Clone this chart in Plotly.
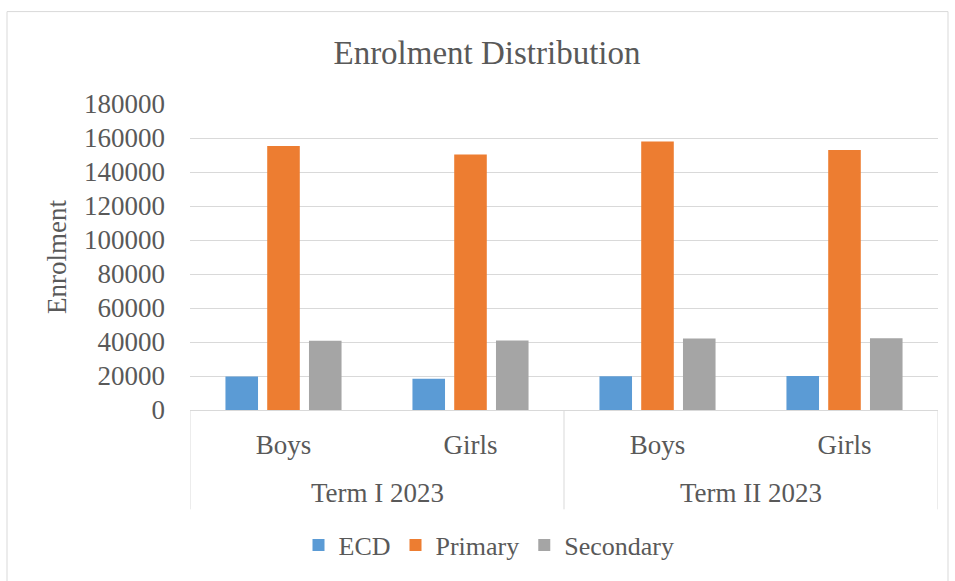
import plotly.graph_objects as go

# Enrolment by term and gender, split by level of schooling
terms = ["Term I 2023", "Term I 2023", "Term II 2023", "Term II 2023"]
genders = ["Boys", "Girls", "Boys", "Girls"]
ecd = [19700, 18400, 19900, 20000]
primary = [155300, 150300, 157900, 153000]
secondary = [40700, 40900, 42100, 42200]

series = [
    ("ECD", ecd, "#5B9BD5"),
    ("Primary", primary, "#ED7D31"),
    ("Secondary", secondary, "#A5A5A5"),
]

TEXT = "#595959"
GRID = "#D9D9D9"
FONT = "Liberation Serif, Times New Roman, serif"

# one slot per (term, gender) pair along the category axis
pos = list(range(len(genders)))

fig = go.Figure()
for name, vals, color in series:
    fig.add_trace(go.Bar(
        name=name,
        x=pos,
        y=vals,
        marker=dict(color=color, line=dict(width=0)),
        customdata=[[t, g] for t, g in zip(terms, genders)],
        hovertemplate="%{customdata[0]} %{customdata[1]}<br>" + name + ": %{y}<extra></extra>",
    ))

W, H = 955, 581
L, R, T, B = 190, 17, 104, 169
pw, ph = W - L - R, H - T - B


def py(px):
    """page pixel row -> paper y"""
    return (T + ph - px) / ph


def px_(x):
    """page pixel column -> paper x"""
    return (x - L) / pw


fig.update_layout(
    width=W, height=H,
    margin=dict(l=L, r=R, t=T, b=B),
    paper_bgcolor="white", plot_bgcolor="white",
    font=dict(family=FONT, color=TEXT, size=27),
    title=dict(text="Enrolment Distribution", x=487 / W, xanchor="center",
               y=1 - 52 / H, yanchor="middle",
               font=dict(size=33, color=TEXT, family=FONT)),
    barmode="group", bargap=0.33, bargroupgap=0.22,
    showlegend=True,
    legend=dict(orientation="h", x=px_(489), xanchor="center",
                y=py(548), yanchor="middle",
                font=dict(size=26, color=TEXT), itemwidth=30,
                traceorder="normal"),
    xaxis=dict(range=[-0.5, len(pos) - 0.5], tickvals=pos, ticktext=genders,
               showline=True, linecolor=GRID, linewidth=1, showgrid=False,
               zeroline=False, ticks="", ticklabelstandoff=11,
               tickfont=dict(size=27, color=TEXT, family=FONT)),
    yaxis=dict(range=[0, 180000], dtick=20000, tickformat="d",
               showgrid=True, gridcolor=GRID, gridwidth=1,
               zeroline=False, showline=False, ticks="",
               ticklabelstandoff=24,
               tickfont=dict(size=27, color=TEXT, family=FONT),
               title=dict(text="Enrolment", standoff=9,
                          font=dict(size=27, color=TEXT, family=FONT))),
)

# term labels centred under their gender groups, with dividers between terms
groups = []
for i, t in enumerate(terms):
    if not groups or groups[-1][0] != t:
        groups.append([t, i, i])
    else:
        groups[-1][2] = i

for t, first, last in groups:
    fig.add_annotation(x=(first + last) / 2, xref="x", y=py(496), yref="paper",
                       text=t, showarrow=False, xanchor="center", yanchor="middle",
                       font=dict(size=27, color=TEXT, family=FONT))

edges = [groups[0][1] - 0.5] + [g[2] + 0.5 for g in groups]
for e in edges:
    fig.add_shape(type="line", xref="x", yref="paper", x0=e, x1=e,
                  y0=0, y1=py(512), line=dict(color=GRID, width=1))

# Light outer chart frame
fig.add_shape(type="rect", xref="paper", yref="paper",
              x0=px_(7), x1=px_(948), y0=py(600), y1=py(11),
              line=dict(color=GRID, width=1), fillcolor="rgba(0,0,0,0)",
              layer="below")

fig.write_html("out.html")
